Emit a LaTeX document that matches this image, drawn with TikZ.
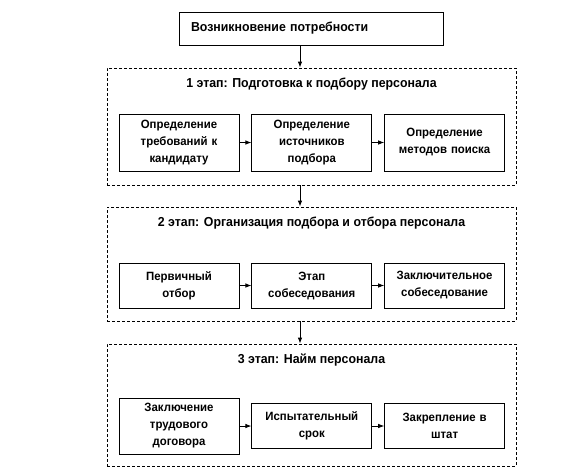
\documentclass[tikz,border=0pt]{standalone}
\usepackage{fontspec}
\setmainfont[FakeStretch=0.95]{Liberation Sans}
\usetikzlibrary{positioning,arrows,arrows.meta}
\tikzset{
    block/.style={rectangle, draw=black, line width=0.8pt, text centered, text width=112pt, minimum width=120pt, inner xsep=4pt, font=\fontsize{12}{17}\selectfont\bfseries},
    needbox/.style={rectangle, draw=black, line width=0.8pt, align=left, text width=240pt, minimum width=264pt, minimum height=33pt, inner xsep=12pt, font=\fontsize{13}{16}\selectfont\bfseries},
    stage/.style={rectangle, draw=black, line width=0.8pt, dash pattern=on 3pt off 2pt, minimum width=409pt},
    stagetitle/.style={below=10pt, inner sep=0pt, font=\fontsize{13}{16}\selectfont\bfseries},
    line/.style={-{Latex[length=6pt,width=4.5pt]}, line width=0.8pt},
}
\begin{document}
\begin{tikzpicture}
        [x=1pt, y=-1pt, node distance=12pt]
        \useasboundingbox (0,0) rectangle (564,472);

        % Starting point
        \node[needbox] (need) at (311,28.5) {Возникновение потребности};

        % Frames of the stages
        \node[stage, minimum height=117pt] (stage1) at (311.5,126.5) {};
        \node[stage, minimum height=114pt] (stage2) at (311.5,264) {};
        \node[stage, minimum height=122pt] (stage3) at (311.5,405) {};
        \node[stagetitle] (title1) at (stage1.north) {1 этап: Подготовка к подбору персонала};
        \node[stagetitle] (title2) at (stage2.north) {2 этап: Организация подбора и отбора персонала};
        \node[stagetitle] (title3) at (stage3.north) {3 этап: Найм персонала};

        % Stage 1
        \node[block, minimum height=57pt] (prep1) at (179,142.5) {Определение\\ требований к\\ кандидату};
        \node[block, minimum height=57pt, right=of prep1] (prep2) {Определение\\ источников\\ подбора};
        \node[block, minimum height=57pt, right=of prep2] (prep3) {Определение\\ методов поиска};

        % Stage 2
        \node[block, minimum height=45pt] (sel1) at (179,285.5) {Первичный\\ отбор};
        \node[block, minimum height=45pt, right=of sel1] (sel2) {Этап\\ собеседования};
        \node[block, minimum height=45pt, right=of sel2] (sel3) {Заключительное\\ собеседование};

        % Stage 3
        \node[block, minimum height=56pt] (hire1) at (179,426) {Заключение\\ трудового\\ договора};
        \node[block, minimum height=45pt, right=of hire1] (hire2) {Испытательный\\ срок};
        \node[block, minimum height=45pt, right=of hire2] (hire3) {Закрепление в\\ штат};

        % Lines
        \coordinate (axis) at (300,0);
        \draw[line] (need.south -| axis) -- (stage1.north -| axis);
        \draw[line] (stage1.south -| axis) -- (stage2.north -| axis);
        \draw[line] (stage2.south -| axis) -- (stage3.north -| axis);
        \foreach \g in {prep, sel, hire} {
            \draw[line] (\g1) -- (\g2);
            \draw[line] (\g2) -- (\g3);
        }

    \end{tikzpicture}
\end{document}
